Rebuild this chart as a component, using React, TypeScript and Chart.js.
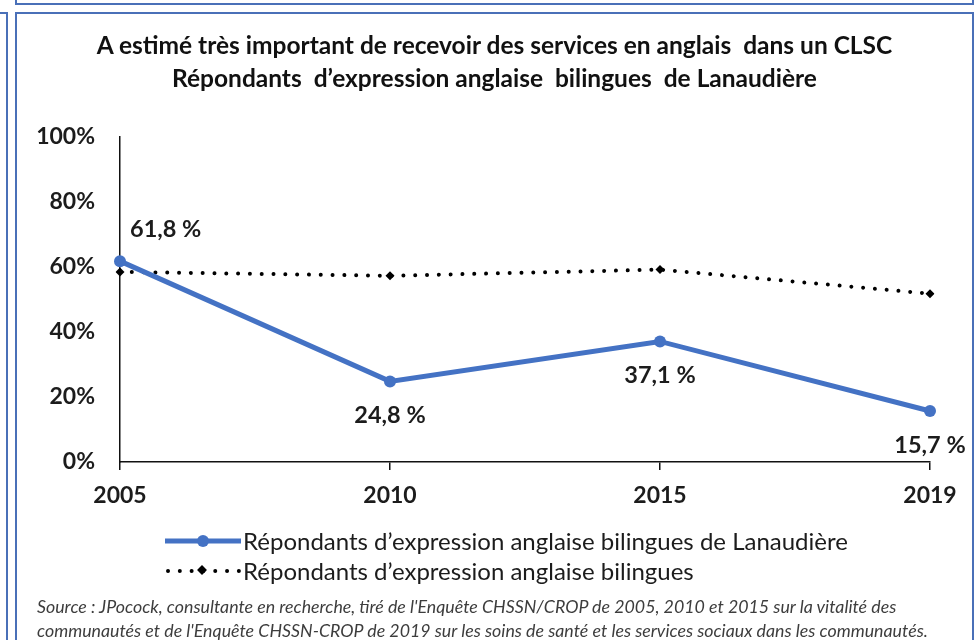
import React, { useEffect, useRef } from "react";
import { Chart, registerables } from "chart.js";

Chart.register(...registerables);

const years = ["2005", "2010", "2015", "2019"];
const lanaudiere = [61.8, 24.8, 37.1, 15.7];
const bilingues = [58.5, 57.3, 59.2, 51.8];
const yTicks = [0, 20, 40, 60, 80, 100];

const titleLines = [
  "A estimé très important de recevoir des services en anglais  dans un CLSC",
  "Répondants  d\u2019expression anglaise  bilingues  de Lanaudière",
];
const seriesNames = [
  "Répondants d\u2019expression anglaise bilingues de Lanaudière",
  "Répondants d\u2019expression anglaise bilingues",
];
const sourceLines = [
  "Source : JPocock, consultante en recherche, tiré de l'Enquête CHSSN/CROP de 2005, 2010 et 2015 sur la vitalité des",
  "communautés et de l'Enquête CHSSN-CROP de 2019 sur les soins de santé et les services sociaux dans les communautés.",
];

const BLUE = "#4472C4";
const BORDER = "#4a70b8";
const TEXT = "#1c1c1c";
const FONT = "Lato, 'Open Sans', sans-serif";

const fmt = (v: number) => v.toFixed(1).replace(".", ",") + " %";

const labelPlugin = {
  id: "pointLabels",
  afterDatasetsDraw(chart: any) {
    const meta = chart.getDatasetMeta(0);
    const ctx = chart.ctx;
    ctx.save();
    ctx.font = "bold 23.5px " + FONT;
    ctx.fillStyle = TEXT;
    ctx.textBaseline = "middle";
    meta.data.forEach((pt: any, i: number) => {
      const v = lanaudiere[i];
      if (i === 0) {
        ctx.textAlign = "left";
        ctx.fillText(fmt(v), pt.x + 10, pt.y - 32);
      } else {
        ctx.textAlign = "center";
        ctx.fillText(fmt(v), pt.x, pt.y + 34);
      }
    });
    ctx.restore();
  },
};

function ChartCanvas() {
  const ref = useRef<HTMLCanvasElement | null>(null);
  useEffect(() => {
    if (!ref.current) return;
    const chart = new Chart(ref.current, {
      type: "line",
      data: {
        labels: years,
        datasets: [
          {
            label: seriesNames[0],
            data: lanaudiere,
            borderColor: BLUE,
            backgroundColor: BLUE,
            borderWidth: 5,
            pointRadius: 6,
            pointHoverRadius: 6,
            pointStyle: "circle",
            pointBorderWidth: 0,
            tension: 0,
          },
          {
            label: seriesNames[1],
            data: bilingues,
            borderColor: "#000",
            backgroundColor: "#000",
            borderWidth: 4,
            borderDash: [0.01, 11.8],
            borderCapStyle: "round",
            pointStyle: "rectRot",
            pointRadius: 4.5,
            pointHoverRadius: 4.5,
            pointBorderWidth: 0,
            tension: 0,
          },
        ],
      },
      options: {
        responsive: false,
        animation: false,
        devicePixelRatio: 1,
        layout: { padding: { left: 20, right: 49, top: 137, bottom: 133 } },
        plugins: {
          legend: { display: false },
          title: { display: false },
          tooltip: { enabled: false },
        },
        scales: {
          x: {
            type: "category",
            offset: false,
            grid: {
              display: true,
              drawOnChartArea: false,
              drawTicks: true,
              tickLength: 8,
              color: "#111",
              lineWidth: 1.5,
            },
            border: { display: true, color: "#111", width: 1.5 },
            ticks: {
              padding: 12,
              color: TEXT,
              font: { family: FONT, size: 23, weight: "bold" },
              maxRotation: 0,
            },
            afterFit: (s: any) => {
              s.height = 45;
            },
          },
          y: {
            min: 0,
            max: 100,
            grid: {
              display: true,
              drawOnChartArea: false,
              drawTicks: false,
            },
            border: { display: true, color: "#111", width: 1.5 },
            afterBuildTicks: (s: any) => {
              s.ticks = yTicks.map((v) => ({ value: v }));
            },
            ticks: {
              padding: 25,
              color: TEXT,
              font: { family: FONT, size: 23, weight: "bold" },
              callback: (v: any) => v + "%",
            },
            afterFit: (s: any) => {
              s.width = 100;
            },
          },
        },
      },
      plugins: [labelPlugin],
    } as any);
    return () => chart.destroy();
  }, []);
  return (
    <canvas
      ref={ref}
      width={979}
      height={640}
      style={{ position: "absolute", left: 0, top: 0, width: 979, height: 640 }}
    />
  );
}

function LegendRow({ idx, top }: { idx: number; top: number }) {
  return (
    <div
      style={{
        position: "absolute",
        left: 165,
        top: top - 15,
        height: 30,
        display: "flex",
        alignItems: "center",
        whiteSpace: "nowrap",
      }}
    >
      <svg width={76} height={30} style={{ display: "block" }}>
        {idx === 0 ? (
          <g>
            <line x1={0} y1={15} x2={76} y2={15} stroke={BLUE} strokeWidth={5} />
            <circle cx={38} cy={15} r={6} fill={BLUE} />
          </g>
        ) : (
          <g>
            <line
              x1={3}
              y1={15}
              x2={76}
              y2={15}
              stroke="#000"
              strokeWidth={4}
              strokeLinecap="round"
              strokeDasharray="0.01 11.8"
            />
            <rect x={33.5} y={10.5} width={7} height={7} fill="#000" transform="rotate(45 37 14)" />
          </g>
        )}
      </svg>
      <span
        style={{
          marginLeft: 2,
          fontFamily: FONT,
          fontSize: 24,
          color: TEXT,
          lineHeight: "30px",
        }}
      >
        {seriesNames[idx]}
      </span>
    </div>
  );
}

export default function App() {
  return (
    <div
      style={{
        position: "absolute",
        left: 0,
        top: 0,
        width: 979,
        height: 640,
        overflow: "hidden",
        background: "#fff",
      }}
    >
      <div
        style={{
          position: "absolute",
          left: 15,
          top: -40,
          width: 955,
          height: 41,
          border: `2px solid ${BORDER}`,
        }}
      />
      <div
        style={{
          position: "absolute",
          left: -40,
          top: 12,
          width: 44,
          height: 700,
          border: `2px solid ${BORDER}`,
        }}
      />
      <div
        style={{
          position: "absolute",
          left: 15,
          top: 12,
          width: 955,
          height: 700,
          border: `2px solid ${BORDER}`,
        }}
      />
      <ChartCanvas />
      <div
        style={{
          position: "absolute",
          left: 17,
          width: 955,
          top: 28,
          textAlign: "center",
          fontFamily: FONT,
          fontWeight: "bold",
          fontSize: 24.5,
          lineHeight: "33px",
          color: "#111",
          whiteSpace: "pre",
        }}
      >
        {titleLines.map((t, i) => (
          <div key={i}>{t}</div>
        ))}
      </div>
      <LegendRow idx={0} top={541} />
      <LegendRow idx={1} top={571} />
      <div
        style={{
          position: "absolute",
          left: 37,
          top: 594,
          fontFamily: FONT,
          fontStyle: "italic",
          fontSize: 17.8,
          lineHeight: "24px",
          color: "#3d3d3d",
          whiteSpace: "nowrap",
        }}
      >
        {sourceLines.map((t, i) => (
          <div key={i}>{t}</div>
        ))}
      </div>
    </div>
  );
}
